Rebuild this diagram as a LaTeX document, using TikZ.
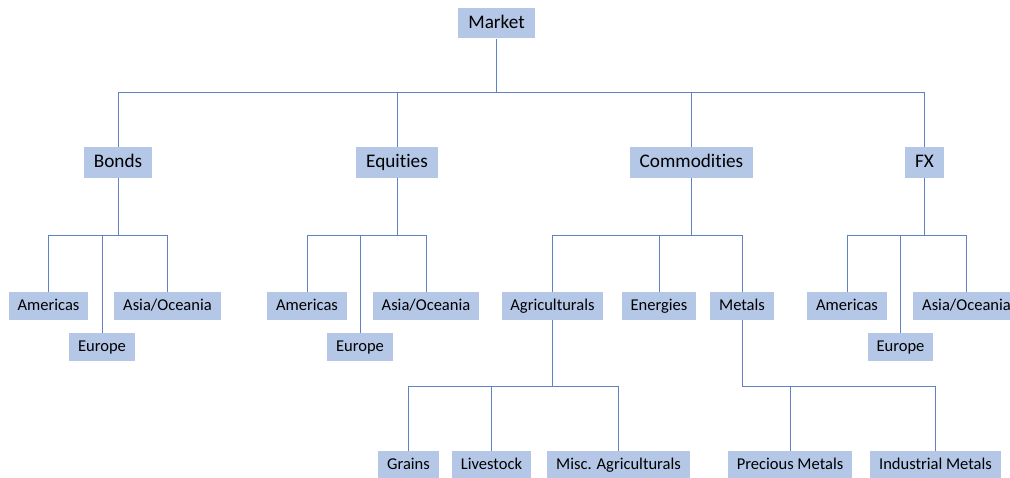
\documentclass[tikz,border=0pt]{standalone}
\usepackage{fontspec}
\setmainfont{Carlito}[Ligatures=NoCommon]
\definecolor{boxfill}{HTML}{B4C7E7}
\definecolor{linkcol}{RGB}{95,130,195}
\tikzset{
  box/.style={fill=boxfill,inner xsep=6.6pt,inner ysep=0pt,minimum height=21pt,
    text height=8.8pt,text depth=2.5pt,font=\fontsize{12.4}{14}\selectfont},
  bigbox/.style={box,inner xsep=7.4pt,minimum height=22.8pt,
    text height=10.2pt,text depth=2.9pt,font=\fontsize{14.4}{16}\selectfont},
  link/.style={draw=linkcol,line width=0.75pt}
}
\begin{document}
\begin{tikzpicture}[x=0.75pt,y=-0.75pt]
\useasboundingbox (0,0) rectangle (1010,478);
\coordinate (bus1) at (0,93);
\coordinate (bus2) at (0,235);
\coordinate (bus3) at (0,386);
% top
\node[bigbox] (market) at (496.5,23.3) {Market};
\node[bigbox] (bonds) at (118,162.5) {Bonds};
\node[bigbox] (equities) at (397,162.5) {Equities};
\node[bigbox] (commod) at (691.5,162.5) {Commodities};
\node[bigbox] (fx) at (924.5,162.5) {FX};
% regions
\node[box] (bAm) at (48.5,306) {Americas};
\node[box] (bAs) at (167.5,306) {Asia/Oceania};
\node[box] (bEu) at (102,347) {Europe};
\node[box] (eAm) at (307,306) {Americas};
\node[box] (eAs) at (426,306) {Asia/Oceania};
\node[box] (eEu) at (360,347) {Europe};
\node[box] (xAm) at (847,306) {Americas};
\node[box] (xAs) at (966.5,306) {Asia/Oceania};
\node[box] (xEu) at (900.5,347) {Europe};
% commodities
\node[box] (agri) at (552.5,306) {Agriculturals};
\node[box] (energ) at (659,306) {Energies};
\node[box] (metals) at (742,306) {Metals};
\node[box] (grains) at (408.5,465) {Grains};
\node[box] (lives) at (491.5,465) {Livestock};
\node[box] (misc) at (618.5,465) {Misc. Agriculturals};
\node[box] (prec) at (790,465) {Precious Metals};
\node[box] (indus) at (935.5,465) {Industrial Metals};
% links
\draw[link](market.south)--(market.south|-bus1)-|(bonds.north);
\draw[link](market.south|-bus1)-|(equities.north);
\draw[link](market.south|-bus1)-|(commod.north);
\draw[link](market.south|-bus1)-|(fx.north);
\draw[link](bonds.south)--(bonds.south|-bus2)-|(bAm.north);
\draw[link](bonds.south|-bus2)-|(bAs.north);
\draw[link](bonds.south|-bus2)-|(bEu.north);
\draw[link](equities.south)--(equities.south|-bus2)-|(eAm.north);
\draw[link](equities.south|-bus2)-|(eAs.north);
\draw[link](equities.south|-bus2)-|(eEu.north);
\draw[link](fx.south)--(fx.south|-bus2)-|(xAm.north);
\draw[link](fx.south|-bus2)-|(xAs.north);
\draw[link](fx.south|-bus2)-|(xEu.north);
\draw[link](commod.south)--(commod.south|-bus2)-|(agri.north);
\draw[link](commod.south|-bus2)-|(energ.north);
\draw[link](commod.south|-bus2)-|(metals.north);
\draw[link](agri.south)--(agri.south|-bus3)-|(grains.north);
\draw[link](agri.south|-bus3)-|(lives.north);
\draw[link](agri.south|-bus3)-|(misc.north);
\draw[link](metals.south)--(metals.south|-bus3)-|(prec.north);
\draw[link](metals.south|-bus3)-|(indus.north);
\end{tikzpicture}
\end{document}
